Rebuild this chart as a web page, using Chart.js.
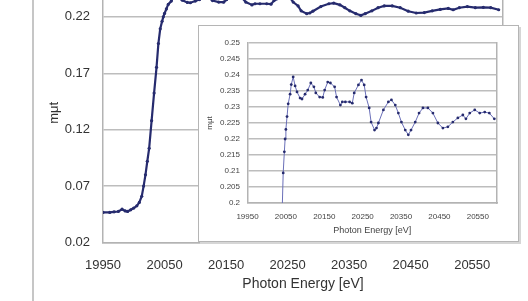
<!DOCTYPE html>
<html>
<head>
<meta charset="utf-8">
<script src="https://cdn.jsdelivr.net/npm/chart.js@4.4.1/dist/chart.umd.min.js"></script>
<style>
	html, body { margin: 0; padding: 0; background: #fff; overflow: hidden; }
	body { width: 528px; height: 301px; position: relative; }
	#mainChart { position: absolute; left: 0; top: -21px; }
	#frame { position: absolute; left: 32px; top: 0; width: 2px; height: 301px; background: #c6c6c6; }
	#insetBox {
		position: absolute; left: 198px; top: 25px; width: 319px; height: 215px;
		border: 1px solid #b5b5b5; background: #fff; box-shadow: 2px 2px 0 #d6d6d6;
	}
	#insetChart { position: absolute; left: 0; top: 0; }
</style>
</head>
<body>
<div id="frame"></div>
<canvas id="mainChart" width="528" height="322"></canvas>
<div id="insetBox"><canvas id="insetChart" width="319" height="215"></canvas></div>

<script>
// Photon energy (eV) and absorbance mμt
const energy = [
	19950, 19961, 19968, 19975, 19981, 19986, 19990, 19995, 20000, 20005,
	20009, 20013, 20016, 20019, 20022, 20025, 20029, 20033, 20037, 20040,
	20043, 20046, 20048, 20050, 20053, 20056, 20061, 20064, 20069, 20074,
	20079, 20087, 20092, 20100, 20107, 20115, 20123, 20128, 20138, 20146,
	20151, 20159, 20166, 20177, 20182, 20192, 20197, 20205, 20216, 20223,
	20228, 20239, 20247, 20254, 20259, 20267, 20272, 20281, 20286, 20291,
	20304, 20317, 20325, 20335, 20343, 20351, 20361, 20369, 20376, 20387,
	20397, 20407, 20420, 20433, 20446, 20459, 20472, 20485, 20498, 20511,
	20519, 20529, 20542, 20555, 20568, 20580, 20593,
];
const mut = [
	0.0467, 0.0467, 0.0472, 0.0475, 0.0495, 0.048, 0.0475, 0.049, 0.0505, 0.0525,
	0.0555, 0.061, 0.07, 0.08, 0.092, 0.1035, 0.128, 0.1524, 0.1753, 0.1963,
	0.2094, 0.216, 0.22, 0.223, 0.227, 0.231, 0.234, 0.237, 0.2394, 0.2366,
	0.2347, 0.2328, 0.2325, 0.234, 0.2353, 0.2375, 0.2363, 0.2344, 0.2331, 0.233,
	0.2353, 0.2378, 0.2375, 0.2363, 0.2331, 0.2306, 0.2316, 0.2316, 0.2316, 0.2312,
	0.2344, 0.2369, 0.2384, 0.2369, 0.2331, 0.2297, 0.2253, 0.2228, 0.2234, 0.225,
	0.2291, 0.2316, 0.2322, 0.2306, 0.2281, 0.2253, 0.2228, 0.2213, 0.2228, 0.2253,
	0.2281, 0.2297, 0.2297, 0.2281, 0.225, 0.2234, 0.2238, 0.2253, 0.2266, 0.2275,
	0.2263, 0.2281, 0.2291, 0.2281, 0.2284, 0.2281, 0.2263,
];
const xTicks = [19950, 20050, 20150, 20250, 20350, 20450, 20550];
const mainYTicks = [0.02, 0.07, 0.12, 0.17, 0.22];
const insetYTicks = [0.2, 0.205, 0.21, 0.215, 0.22, 0.225, 0.23, 0.235, 0.24, 0.245, 0.25];

const points = energy.map((e, i) => ({ x: e, y: mut[i] }));
const font = 'Liberation Sans, Arial, sans-serif';
const gridGrey = '#bdbdbd';
const axisGrey = '#b3b3b3';
const navy = '#262b6e';

// dummy right axis, only to draw the plot-area border on the right
const rightBorder = {
	position: 'right',
	grid: { display: false },
	ticks: { display: false },
	border: { display: true, color: axisGrey, width: 1.5 },
	afterFit: (s) => { s.width = 0; },
};

// Main chart
new Chart(document.getElementById('mainChart'), {
	type: 'line',
	data: {
		datasets: [{
			data: points,
			borderColor: navy,
			backgroundColor: navy,
			borderWidth: 2.2,
			pointRadius: 1.6,
			pointBorderWidth: 0,
			tension: 0,
		}],
	},
	options: {
		responsive: false,
		animation: false,
		layout: { padding: { left: 0, right: 25, top: 0, bottom: 0 } },
		plugins: { legend: { display: false }, tooltip: { enabled: false } },
		scales: {
			x: {
				type: 'linear',
				min: 19950,
				max: 20600,
				afterBuildTicks: (s) => { s.ticks = xTicks.map((v) => ({ value: v })); },
				afterFit: (s) => { s.height = 58.5; },
				grid: { display: false, drawTicks: false },
				border: { display: true, color: axisGrey, width: 1.5 },
				ticks: {
					padding: 14.7, color: '#333', maxRotation: 0, autoSkip: false,
					font: { family: font, size: 13 },
					callback: (v) => String(v),
				},
				title: {
					display: true, text: 'Photon Energy [eV]', color: '#333',
					font: { family: font, size: 14 }, padding: { top: 0, bottom: 8.6 },
				},
			},
			y: {
				min: 0.02,
				max: 0.25,
				afterBuildTicks: (s) => { s.ticks = mainYTicks.map((v) => ({ value: v })); },
				// top of the plot sits above the window, so no room kept for a top label
				afterFit: (s) => { s.width = 103; s.paddingTop = 0; },
				grid: { color: gridGrey, lineWidth: 1.5, drawTicks: false },
				border: { display: true, color: axisGrey, width: 1.5 },
				ticks: {
					padding: 13, color: '#333',
					font: { family: font, size: 13 },
					callback: (v) => v.toFixed(2),
				},
				title: {
					display: true, text: 'mμt', color: '#333',
					font: { family: font, size: 13 }, padding: { top: 46.2, bottom: 0 },
				},
			},
			yR: rightBorder,
		},
	},
});

// Inset: zoom on the top of the edge
new Chart(document.getElementById('insetChart'), {
	type: 'line',
	data: {
		datasets: [{
			data: points,
			borderColor: '#6a6fb8',
			backgroundColor: navy,
			borderWidth: 1,
			pointRadius: 1.4,
			pointBorderWidth: 0,
			tension: 0,
		}],
	},
	options: {
		responsive: false,
		animation: false,
		layout: { padding: { left: 0, right: 21, top: 17, bottom: 0 } },
		plugins: { legend: { display: false }, tooltip: { enabled: false } },
		scales: {
			x: {
				type: 'linear',
				min: 19950,
				max: 20600,
				afterBuildTicks: (s) => { s.ticks = xTicks.map((v) => ({ value: v })); },
				afterFit: (s) => { s.height = 38; },
				grid: { display: false, drawTicks: false },
				border: { display: true, color: axisGrey, width: 1.5 },
				ticks: {
					padding: 9, color: '#444', maxRotation: 0, autoSkip: false,
					font: { family: font, size: 8 },
					callback: (v) => String(v),
				},
				title: {
					display: true, text: 'Photon Energy [eV]', color: '#444',
					font: { family: font, size: 9 }, padding: { top: 0, bottom: 4.6 },
				},
			},
			y: {
				min: 0.2,
				max: 0.25,
				afterBuildTicks: (s) => { s.ticks = insetYTicks.map((v) => ({ value: v })); },
				afterFit: (s) => { s.width = 48.5; },
				grid: { color: gridGrey, lineWidth: 1.5, drawTicks: false },
				border: { display: true, color: axisGrey, width: 1.5 },
				ticks: {
					padding: 7.5, color: '#444',
					font: { family: font, size: 8 },
					callback: (v) => String(+v.toFixed(3)),
				},
				title: {
					display: true, text: 'mμt', color: '#444',
					font: { family: font, size: 8 }, padding: { top: 6.2, bottom: 0 },
				},
			},
			yR: rightBorder,
		},
	},
});
</script>
</body>
</html>
